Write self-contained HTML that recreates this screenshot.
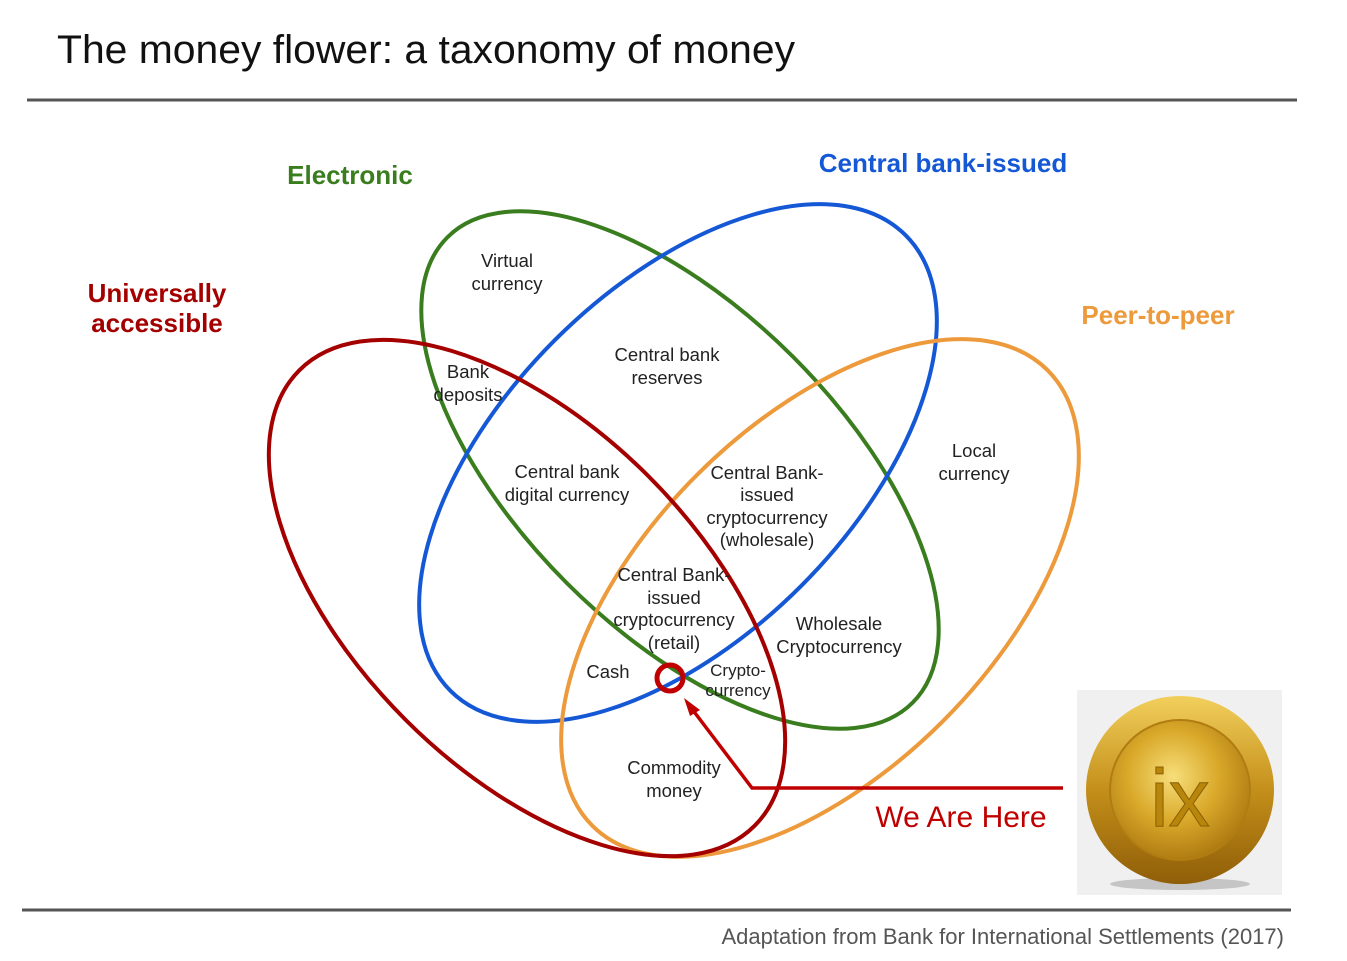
<!DOCTYPE html>
<html><head><meta charset="utf-8"><style>
html,body{margin:0;padding:0;background:#fff}
svg{display:block}
text{font-family:"Liberation Sans",Arial,sans-serif}
</style></head><body>
<svg width="1347" height="961" viewBox="0 0 1347 961" xmlns="http://www.w3.org/2000/svg">
<defs>
<radialGradient id="cg" cx="45%" cy="40%" r="65%">
<stop offset="0" stop-color="#f7de7a"/><stop offset="0.5" stop-color="#d9a92a"/><stop offset="1" stop-color="#a8740e"/>
</radialGradient>
<linearGradient id="rg" x1="0" y1="0" x2="0" y2="1">
<stop offset="0" stop-color="#f2cf5c"/><stop offset="0.5" stop-color="#c48f1a"/><stop offset="1" stop-color="#8f5e08"/>
</linearGradient>
</defs>
<text x="57" y="63" font-size="40" fill="#111" textLength="738" lengthAdjust="spacingAndGlyphs">The money flower: a taxonomy of money</text>
<line x1="27" y1="100" x2="1297" y2="100" stroke="#555" stroke-width="3"/>
<line x1="22" y1="910" x2="1291" y2="910" stroke="#555" stroke-width="3"/>
<text x="1284" y="944" font-size="22" fill="#555" text-anchor="end">Adaptation from Bank for International Settlements (2017)</text>

<g fill="none" stroke-width="4">
<ellipse cx="680" cy="470" rx="329" ry="160" transform="rotate(45 680 470)" stroke="#3a7d1e"/>
<ellipse cx="678" cy="463" rx="322" ry="174" transform="rotate(-45 678 463)" stroke="#1558d6"/>
<ellipse cx="820" cy="598" rx="322" ry="174" transform="rotate(-45 820 598)" stroke="#ec9a3b"/>
<ellipse cx="527" cy="598" rx="322" ry="172" transform="rotate(45 527 598)" stroke="#a40000"/>
</g>

<g font-weight="bold" font-size="26" text-anchor="middle">
<text x="350" y="184" fill="#3a7d1e">Electronic</text>
<text x="943" y="172" fill="#1558d6">Central bank-issued</text>
<text x="157" y="302" fill="#a40000">Universally</text>
<text x="157" y="332" fill="#a40000">accessible</text>
<text x="1158" y="324" fill="#ec9a3b">Peer-to-peer</text>
</g>

<g font-size="18.5" fill="#222" text-anchor="middle">
<text x="507" y="267">Virtual</text><text x="507" y="290">currency</text>
<text x="667" y="361">Central bank</text><text x="667" y="384">reserves</text>
<text x="468" y="378">Bank</text><text x="468" y="401">deposits</text>
<text x="567" y="478">Central bank</text><text x="567" y="501">digital currency</text>
<text x="767" y="479">Central Bank-</text><text x="767" y="501">issued</text><text x="767" y="524">cryptocurrency</text><text x="767" y="546">(wholesale)</text>
<text x="974" y="457">Local</text><text x="974" y="480">currency</text>
<text x="674" y="581">Central Bank-</text><text x="674" y="604">issued</text><text x="674" y="626">cryptocurrency</text><text x="674" y="649">(retail)</text>
<text x="839" y="630">Wholesale</text><text x="839" y="653">Cryptocurrency</text>
<text x="608" y="678">Cash</text>
<text x="738" y="676" font-size="17">Crypto-</text><text x="738" y="696" font-size="17">currency</text>
<text x="674" y="774">Commodity</text><text x="674" y="797">money</text>
</g>

<circle cx="670" cy="678" r="13" fill="none" stroke="#c00000" stroke-width="5"/>
<polyline points="1063,788 752,788 692,709" fill="none" stroke="#c00000" stroke-width="3.5"/>
<polygon points="684,698 700,710 690,716" fill="#c00000"/>
<text x="961" y="827" font-size="30" fill="#c00000" text-anchor="middle">We Are Here</text>

<rect x="1077" y="690" width="205" height="205" fill="#f0f0f0"/>
<ellipse cx="1180" cy="884" rx="70" ry="6" fill="#999" opacity="0.5"/>
<circle cx="1180" cy="790" r="94" fill="url(#rg)"/>
<circle cx="1180" cy="790" r="70" fill="url(#cg)" stroke="#b07d12" stroke-width="2"/>
<text x="1180" y="826" font-family="Liberation Serif,serif" font-size="82" fill="#b8860b" text-anchor="middle" stroke="#8a5f06" stroke-width="1">ix</text>
</svg>
</body></html>
